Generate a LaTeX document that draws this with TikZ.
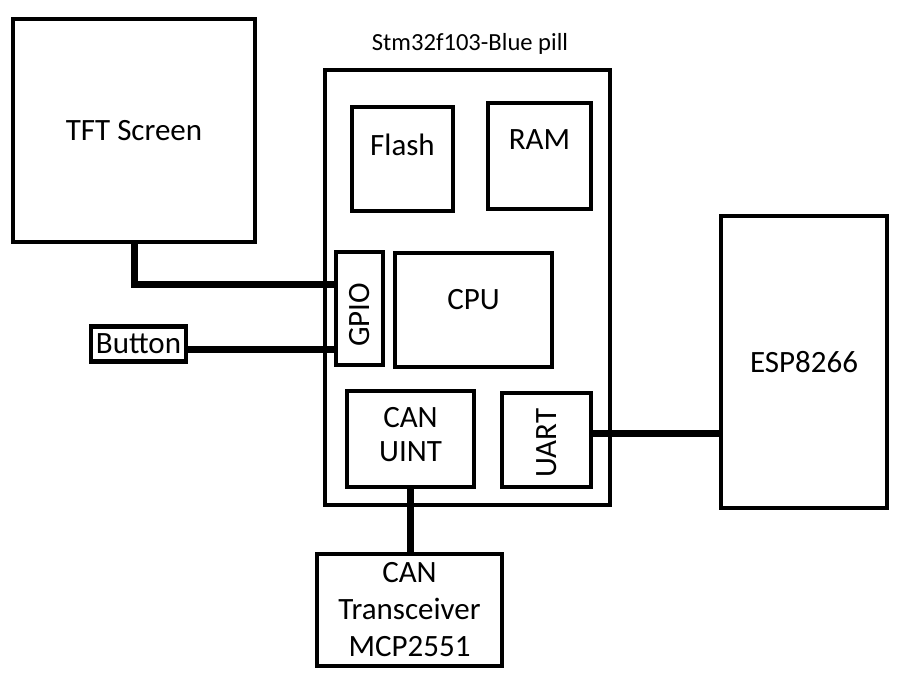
\documentclass[tikz,border=0pt]{standalone}
\usepackage{fontspec}
\setmainfont{Carlito}
\begin{document}
\begin{tikzpicture}[x=1pt,y=-1pt,
    blk/.style={draw,line width=4.5pt,inner sep=0pt},
    txt/.style={font=\fontsize{31}{34}\selectfont,align=center},
    wire/.style={line width=7pt}]
  \useasboundingbox (0,0) rectangle (901,680);
  % the board and what sits on it
  \node[anchor=base,font=\fontsize{24.6}{28}\selectfont] (title) at (470,50) {Stm32f103-Blue pill};
  \node[blk,line width=4pt,minimum width=285pt,minimum height=435pt] (board) at (467.5,287.5) {};
  \node[blk,minimum width=101pt,minimum height=104pt,
    label={[txt,yshift=14pt]center:Flash}] (flash) at (402.5,159) {};
  \node[blk,minimum width=103pt,minimum height=106pt,
    label={[txt,yshift=16pt]center:RAM}] (ram) at (539.5,156) {};
  \node[blk,minimum width=47pt,minimum height=113pt,
    label={[txt,yshift=-6.5pt]center:\rotatebox{90}{GPIO}}] (gpio) at (359.5,308.5) {};
  \node[blk,minimum width=157pt,minimum height=114pt,
    label={[txt,yshift=10pt]center:CPU}] (cpu) at (473.5,310) {};
  \node[blk,minimum width=127pt,minimum height=96pt,
    label={[txt,yshift=4pt]center:CAN\\UINT}] (canuint) at (410.5,439) {};
  \node[blk,minimum width=89pt,minimum height=94pt,
    label={[txt,yshift=-3pt]center:\rotatebox{90}{UART}}] (uart) at (546.5,440) {};
  % outside parts
  \node[blk,txt,minimum width=242pt,minimum height=223pt] (tft) at (134,130.5) {TFT Screen};
  \node[blk,txt,minimum width=95pt,minimum height=35pt] (button) at (138.5,344) {Button};
  \node[blk,txt,line width=4pt,minimum width=166pt,minimum height=292pt] (esp) at (804,362) {ESP8266};
  \node[blk,txt,font=\fontsize{31}{37}\selectfont,minimum width=185pt,minimum height=112pt]
    (trx) at (409.5,610) {CAN\\Transceiver\\MCP2551};
  % wires
  \draw[wire] (tft.south) |- (gpio.137);
  \draw[wire] (button.-6) -- (button.-6 -| gpio.west);
  \draw[wire] (uart.8) -- (uart.8 -| esp.west);
  \draw[wire] (canuint.south) -- (canuint.south |- trx.north);
\end{tikzpicture}
\end{document}
